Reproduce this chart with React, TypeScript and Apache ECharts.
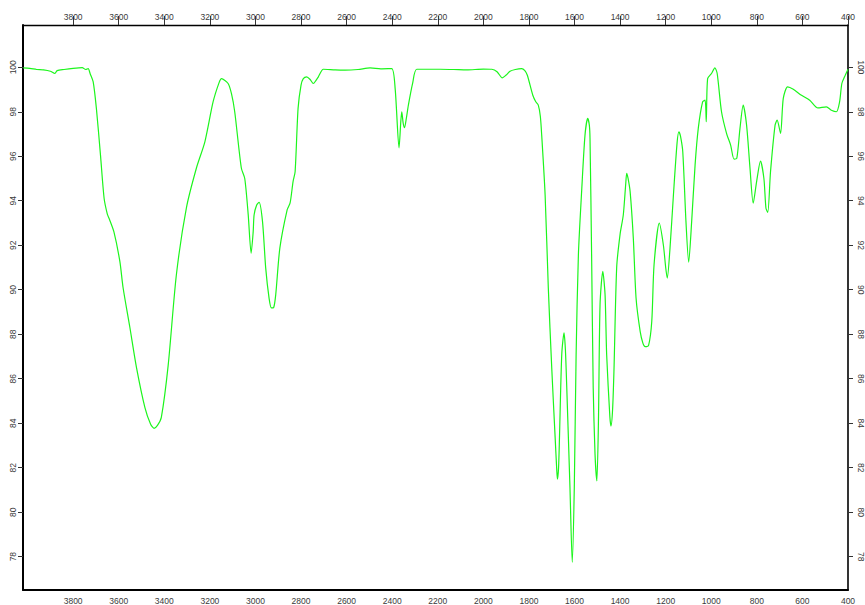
import { useEffect, useRef } from "react";
import * as echarts from "echarts";

// IR transmission spectrum: wavenumber (cm-1) and transmittance (%)
const wavenumbers = [
  4019, 3990, 3960, 3930, 3900, 3880, 3870, 3840, 3800, 3760, 3745, 3734, 3725, 3712, 3698, 3680,
  3664, 3650, 3642, 3621, 3595, 3581, 3551, 3522, 3485, 3460, 3445, 3430, 3413, 3383, 3347, 3303,
  3259, 3222, 3186, 3160, 3149, 3120, 3105, 3091, 3062, 3047, 3032, 3019, 3010, 3006, 2995, 2984,
  2969, 2955, 2940, 2930, 2920, 2911, 2893, 2861, 2848, 2835, 2826, 2813, 2800, 2790, 2775, 2760,
  2746, 2735, 2724, 2702, 2650, 2607, 2550, 2497, 2450, 2402, 2387, 2370, 2362, 2358, 2352, 2346,
  2338, 2329, 2310, 2292, 2190, 2130, 2073, 2000, 1963, 1940, 1917, 1900, 1883, 1860, 1832, 1818,
  1807, 1783, 1770, 1759, 1750, 1744, 1729, 1715, 1700, 1685, 1678, 1675, 1670, 1666, 1656, 1646,
  1640, 1634, 1620, 1610, 1601, 1593, 1583, 1568, 1554, 1542, 1535, 1532, 1525, 1518, 1510, 1502,
  1495, 1488, 1476, 1466, 1459, 1445, 1440, 1433, 1427, 1415, 1400, 1386, 1375, 1371, 1365, 1356,
  1342, 1330, 1312, 1300, 1290, 1275, 1261, 1251, 1228, 1210, 1200, 1193, 1181, 1166, 1150, 1142,
  1135, 1125, 1111, 1099, 1086, 1071, 1057, 1038, 1027, 1022, 1016, 999, 984, 974, 955, 933,
  915, 900, 888, 874, 860, 845, 830, 816, 801, 784, 769, 760, 752, 740, 720, 711,
  696, 684, 665, 640, 604, 568, 532, 495, 473, 451, 437, 427, 415, 400,
];

const transmittance = [
  99.97, 99.95, 99.9, 99.88, 99.82, 99.72, 99.85, 99.9, 99.95, 99.98, 99.9, 99.94, 99.7, 99.34, 98.15, 96.05,
  94.1, 93.4, 93.2, 92.6, 91.27, 90.1, 88.3, 86.5, 84.7, 83.95, 83.77, 83.9, 84.26, 86.6, 90.67, 93.68,
  95.47, 96.65, 98.44, 99.3, 99.49, 99.27, 98.8, 98.0, 95.47, 95.0, 93.4, 91.64, 92.6, 93.36, 93.8, 93.93,
  93.06, 90.97, 89.6, 89.18, 89.2, 89.78, 91.87, 93.59, 93.9, 94.86, 95.3, 98.15, 99.2, 99.49, 99.57, 99.45,
  99.27, 99.4, 99.57, 99.91, 99.88, 99.87, 99.9, 99.97, 99.93, 99.94, 99.04, 96.38, 97.6, 98.0, 97.5, 97.28,
  97.7, 98.3, 99.3, 99.91, 99.91, 99.9, 99.88, 99.92, 99.91, 99.8, 99.52, 99.65, 99.82, 99.9, 99.94, 99.85,
  99.64, 98.74, 98.45, 98.3, 97.8, 96.95, 94.26, 90.08, 86.49, 83.35, 81.9, 81.48, 82.0, 83.35, 87.09, 88.06,
  87.3, 85.59, 81.11, 77.74, 81.11, 87.09, 91.57, 94.56, 96.95, 97.7, 97.4, 96.8, 91.57, 85.59, 82.6, 81.4,
  84.09, 89.33, 90.82, 89.78, 87.09, 84.3, 83.87, 84.6, 86.33, 91.0, 92.5, 93.36, 94.8, 95.23, 95.0, 94.41,
  92.32, 89.63, 88.13, 87.6, 87.44, 87.5, 88.58, 91.12, 92.99, 92.0, 91.0, 90.52, 91.87, 94.26, 96.6, 97.1,
  96.9, 96.2, 93.06, 91.24, 93.06, 95.6, 97.25, 98.44, 98.52, 97.55, 99.49, 99.72, 99.97, 99.72, 98.0, 97.03,
  96.5, 95.87, 95.9, 97.25, 98.3, 97.4, 95.46, 93.89, 94.86, 95.78, 95.0, 93.66, 93.48, 95.3, 97.4, 97.62,
  97.03, 98.6, 99.12, 99.01, 98.74, 98.52, 98.17, 98.22, 98.07, 98.0, 98.44, 99.27, 99.57, 99.91,
];

const xTickValues = [3800, 3600, 3400, 3200, 3000, 2800, 2600, 2400, 2200, 2000, 1800, 1600, 1400, 1200, 1000, 800, 600, 400];
const yTickValues = [78, 80, 82, 84, 86, 88, 90, 92, 94, 96, 98, 100];

const X_MIN = 400;
const X_MAX = 4020;
const Y_MIN = 76.5;
const Y_MAX = 101.9;

const labelFont = {
  fontFamily: "'Liberation Sans', Arial, sans-serif",
  fontSize: 8.5,
  color: "#3a3a3a",
};

export default function App() {
  const ref = useRef<HTMLDivElement>(null);

  useEffect(() => {
    if (!ref.current) return;
    const chart = echarts.init(ref.current, null, { renderer: "svg" });

    const points = wavenumbers.map((w, i) => [w, transmittance[i]]);

    const xAxisCommon = {
      type: "value" as const,
      min: X_MIN,
      max: X_MAX,
      inverse: true,
      splitLine: { show: false },
    };
    const yAxisCommon = {
      type: "value" as const,
      min: Y_MIN,
      max: Y_MAX,
      splitLine: { show: false },
    };

    chart.setOption({
      animation: false,
      backgroundColor: "#ffffff",
      grid: { left: 23, right: 16, top: 25, bottom: 14, containLabel: false },
      xAxis: [
        {
          ...xAxisCommon,
          position: "bottom",
          axisLine: { show: true, onZero: false, lineStyle: { color: "#000", width: 2 } },
          axisTick: { show: false },
          axisLabel: { ...labelFont, margin: 6, customValues: xTickValues, formatter: (v: number) => String(v) },
        },
        {
          ...xAxisCommon,
          position: "top",
          axisLine: { show: true, onZero: false, lineStyle: { color: "#000", width: 1.3 } },
          axisTick: { show: true, length: 9, customValues: xTickValues, lineStyle: { color: "#333", width: 1 } },
          axisLabel: { ...labelFont, margin: 4, customValues: xTickValues, formatter: (v: number) => String(v) },
        },
      ],
      yAxis: [
        {
          ...yAxisCommon,
          position: "left",
          axisLine: { show: true, onZero: false, lineStyle: { color: "#000", width: 2 } },
          axisTick: { show: true, length: 5, customValues: yTickValues, lineStyle: { color: "#333", width: 1 } },
          axisLabel: { ...labelFont, rotate: 90, margin: 6, customValues: yTickValues, formatter: (v: number) => String(v) },
        },
        {
          ...yAxisCommon,
          position: "right",
          axisLine: { show: true, onZero: false, lineStyle: { color: "#000", width: 1.6 } },
          axisTick: { show: true, length: 5, customValues: yTickValues, lineStyle: { color: "#333", width: 1 } },
          axisLabel: { ...labelFont, rotate: -90, margin: 8, customValues: yTickValues, formatter: (v: number) => String(v) },
        },
      ],
      series: [
        {
          type: "line",
          xAxisIndex: 0,
          yAxisIndex: 0,
          data: points,
          showSymbol: false,
          smooth: 0.25,
          clip: true,
          lineStyle: { color: "#1cf51c", width: 1.2 },
        },
      ],
    });

    return () => chart.dispose();
  }, []);

  return (
    <div
      ref={ref}
      style={{ position: "fixed", left: 0, top: 0, width: 865, height: 605, background: "#fff" }}
    />
  );
}
